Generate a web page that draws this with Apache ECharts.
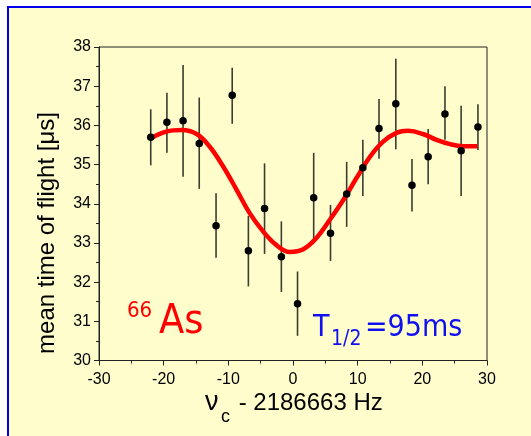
<!DOCTYPE html>
<html>
<head>
<meta charset="utf-8">
<script src="https://cdn.jsdelivr.net/npm/echarts@6/dist/echarts.min.js"></script>
<style>
html,body{margin:0;padding:0;background:#fff;}
#c{width:531px;height:436px;}
</style>
</head>
<body>
<div id="c"></div>
<script>
// Measured points (frequency offset in Hz, mean TOF in µs, error half-widths)
var freqOffset = [-22.0, -19.5, -17.0, -14.5, -11.9, -9.4, -6.9, -4.4, -1.8, 0.7, 3.2, 5.8, 8.3, 10.8, 13.3, 15.9, 18.4, 20.9, 23.5, 26.0, 28.6];
var meanTof    = [35.70, 36.08, 36.12, 35.54, 33.44, 36.77, 32.80, 33.88, 32.65, 31.45, 34.15, 33.25, 34.25, 34.92, 35.92, 36.55, 34.47, 35.20, 36.29, 35.35, 35.96];
var errUp      = [0.71, 0.75, 1.42, 1.17, 0.83, 0.70, 0.89, 1.15, 0.90, 0.82, 1.15, 0.72, 0.82, 0.71, 0.75, 1.15, 0.67, 0.71, 0.71, 1.15, 0.58];
var errDown    = [0.72, 0.78, 1.43, 1.16, 0.82, 0.73, 0.91, 1.16, 0.90, 0.82, 1.14, 0.71, 0.84, 0.72, 0.77, 1.16, 0.67, 0.70, 0.66, 1.15, 0.59];
// Fit curve
var fitX = [-22.0, -19.6, -17.2, -14.9, -12.9, -10.8, -8.7, -6.7, -4.6, -2.6, -0.5, 1.6, 3.6, 5.7, 7.8, 9.8, 11.9, 13.9, 16.0, 17.8, 20.1, 22.2, 24.3, 26.3, 28.5];
var fitY = [35.67, 35.84, 35.88, 35.78, 35.46, 34.95, 34.35, 33.76, 33.29, 32.95, 32.77, 32.84, 33.12, 33.59, 34.10, 34.65, 35.20, 35.58, 35.81, 35.86, 35.78, 35.63, 35.52, 35.47, 35.47];
// Axis settings
var xMin = -30, xMax = 30, xStep = 10;
var yMin = 30, yMax = 38, yStep = 1;

var points = freqOffset.map(function (x, i) { return [x, meanTof[i]]; });
var bars = freqOffset.map(function (x, i) { return [x, meanTof[i] - errDown[i], meanTof[i] + errUp[i]]; });
var fit = fitX.map(function (x, i) { return [x, fitY[i]]; });

var condensed = "'DejaVu Sans Condensed', 'DejaVu Sans', sans-serif";
var arial = "'Liberation Sans', Arial, sans-serif";

var chart = echarts.init(document.getElementById('c'), null, {renderer: 'canvas'});
chart.setOption({
  backgroundColor: '#ffffff',
  animation: false,
  graphic: [
    {type: 'rect', z: -10, shape: {x: 8, y: 7, width: 700, height: 600},
     style: {fill: '#fffdcc', stroke: '#0000ee', lineWidth: 2}},
    {type: 'text', z: 10, x: 47, y: 233, rotation: Math.PI / 2,
     style: {text: 'mean time of flight [\u03bcs]', font: '24px ' + arial, fill: '#000', align: 'center', verticalAlign: 'middle'}},
    {type: 'text', z: 10, x: 205, y: 416,
     style: {text: '\u03bd', font: '27px ' + arial, fill: '#000', align: 'left', verticalAlign: 'bottom'}},
    {type: 'text', z: 10, x: 221, y: 426,
     style: {text: 'c', font: '18px ' + arial, fill: '#000', align: 'left', verticalAlign: 'bottom'}},
    {type: 'text', z: 10, x: 232, y: 415,
     style: {text: ' - 2186663 Hz', font: '24px ' + arial, fill: '#000', align: 'left', verticalAlign: 'bottom'}},
    {type: 'text', z: 10, x: 127, y: 322,
     style: {text: '66', font: '22px ' + condensed, fill: '#ff0000', align: 'left', verticalAlign: 'bottom'}},
    {type: 'text', z: 10, x: 159, y: 343,
     style: {text: 'As', font: '41px ' + condensed, fill: '#ff0000', align: 'left', verticalAlign: 'bottom'}},
    {type: 'text', z: 10, x: 313, y: 343,
     style: {text: 'T', font: '30px ' + condensed, fill: '#1010ee', align: 'left', verticalAlign: 'bottom'}},
    {type: 'text', z: 10, x: 331, y: 350,
     style: {text: '1/2', font: '21px ' + condensed, fill: '#1010ee', align: 'left', verticalAlign: 'bottom'}},
    {type: 'text', z: 10, x: 365, y: 343,
     style: {text: '=95ms', font: '30px ' + condensed, fill: '#1010ee', align: 'left', verticalAlign: 'bottom'}}
  ],
  grid: {left: 99, right: 44, top: 47, bottom: 75.5, show: true, borderColor: '#222', borderWidth: 1, backgroundColor: 'transparent'},
  xAxis: {
    type: 'value', min: xMin, max: xMax, interval: xStep,
    axisLine: {show: true, onZero: false, lineStyle: {color: '#222', width: 1}},
    axisTick: {show: true, inside: false, length: 5, lineStyle: {color: '#222'}},
    minorTick: {show: true, splitNumber: 2, length: 3, lineStyle: {color: '#222'}},
    splitLine: {show: false},
    axisLabel: {color: '#000', fontSize: 16, fontFamily: arial, margin: 11}
  },
  yAxis: {
    type: 'value', min: yMin, max: yMax, interval: yStep,
    axisLine: {show: true, onZero: false, lineStyle: {color: '#222', width: 1}},
    axisTick: {show: true, inside: false, length: 5, lineStyle: {color: '#222'}},
    minorTick: {show: true, splitNumber: 2, length: 3, lineStyle: {color: '#222'}},
    splitLine: {show: false},
    axisLabel: {color: '#000', fontSize: 16, fontFamily: arial, margin: 8}
  },
  series: [
    {
      type: 'custom', z: 2, data: bars,
      renderItem: function (params, api) {
        var x = api.value(0);
        var lo = api.coord([x, api.value(1)]);
        var hi = api.coord([x, api.value(2)]);
        return {type: 'line', shape: {x1: lo[0], y1: lo[1], x2: hi[0], y2: hi[1]},
                style: {stroke: '#3c3c30', lineWidth: 1.6}};
      }
    },
    {
      type: 'line', z: 3, data: fit, smooth: 0.4, showSymbol: false, symbol: 'none',
      lineStyle: {color: '#ff0000', width: 4.5}
    },
    {
      type: 'scatter', z: 4, data: points, symbol: 'circle', symbolSize: 7.5,
      itemStyle: {color: '#000', opacity: 1}
    }
  ]
});
</script>
</body>
</html>
